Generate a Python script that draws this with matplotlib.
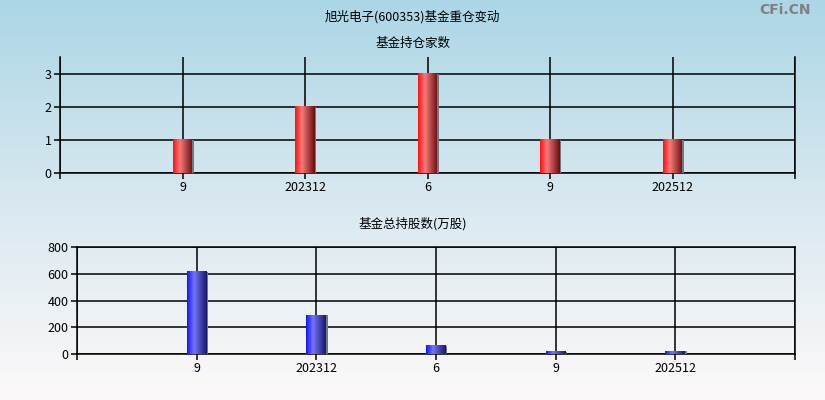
import numpy as np
import matplotlib
matplotlib.use("Agg")
import matplotlib.pyplot as plt
from matplotlib.colors import LinearSegmentedColormap

plt.rcParams['font.family'] = ['Noto Sans CJK SC', 'DejaVu Sans']

# data
title = "旭光电子(600353)基金重仓变动"
labels = ["9", "202312", "6", "9", "202512"]
fund_count = [1, 2, 3, 1, 1]
fund_shares = [615, 290, 60, 15, 22]

red_cm = LinearSegmentedColormap.from_list("r", [(0, "#ff1010"), (0.35, "#f47a7a"), (1, "#6a0c0c")])
blue_cm = LinearSegmentedColormap.from_list("b", [(0, "#1414ff"), (0.35, "#7474ff"), (1, "#18186a")])

fig = plt.figure(figsize=(8.25, 4.0), dpi=100)

# background gradient
bg = fig.add_axes([0, 0, 1, 1], zorder=-10)
grad = np.linspace(0, 1, 256).reshape(-1, 1)
bg_cm = LinearSegmentedColormap.from_list("bg", ["#acd6e6", "#d8e8f0", "#fdf9f9"])
bg.imshow(grad, aspect='auto', cmap=bg_cm, extent=[0, 1, 0, 1], origin='upper')
bg.axis('off')

W, H = 825., 400.
def axrect(l, t, r, b):
    return [l / W, 1 - b / H, (r - l) / W, (b - t) / H]

ax1 = fig.add_axes(axrect(60, 57, 795, 173))
ax2 = fig.add_axes(axrect(77, 247, 795, 354))

def draw(ax, vals, cm, ylim, yticks, bw):
    x = np.arange(1, len(vals) + 1)
    ax.set_xlim(0, 6)
    ax.set_ylim(*ylim)
    ax.patch.set_alpha(0)
    g = np.linspace(0, 1, 64).reshape(1, -1)
    for xi, v in zip(x, vals):
        ax.imshow(g, cmap=cm, aspect='auto', extent=[xi - bw / 2, xi + bw / 2, 0, v], zorder=3)
        ax.bar(xi + bw / 2, v, width=bw * 0.06, align='edge', color="#707880", zorder=3)
    ax.set_xlim(0, 6)
    ax.set_ylim(*ylim)
    ax.set_xticks(np.arange(0, 7))
    ax.set_xticklabels([""] + labels + [""])
    ax.set_yticks(yticks)
    ax.grid(True, color='black', linewidth=1.1, zorder=1)
    for s in ax.spines.values():
        s.set_linewidth(1.1)
    ax.tick_params(direction='out', length=4, width=1.1, labelsize=9, colors='black', pad=2)

draw(ax1, fund_count, red_cm, (0, 3.5), [0, 1, 2, 3], 0.163)
ax1.spines['top'].set_visible(False)
draw(ax2, fund_shares, blue_cm, (0, 800), [0, 200, 400, 600, 800], 0.167)

fig.text(0.5, 1 - 17 / H, title, ha='center', va='center', fontsize=9)
fig.text(0.5, 1 - 43 / H, "基金持仓家数", ha='center', va='center', fontsize=9)
fig.text(0.5, 1 - 224 / H, "基金总持股数(万股)", ha='center', va='center', fontsize=9)
fig.text(1 - 40 / W, 1 - 10 / H, "CFi.CN", ha='center', va='center', fontsize=10,
         color='#808080', fontweight='bold', family='DejaVu Sans')

fig.savefig("out.png", dpi=100)
